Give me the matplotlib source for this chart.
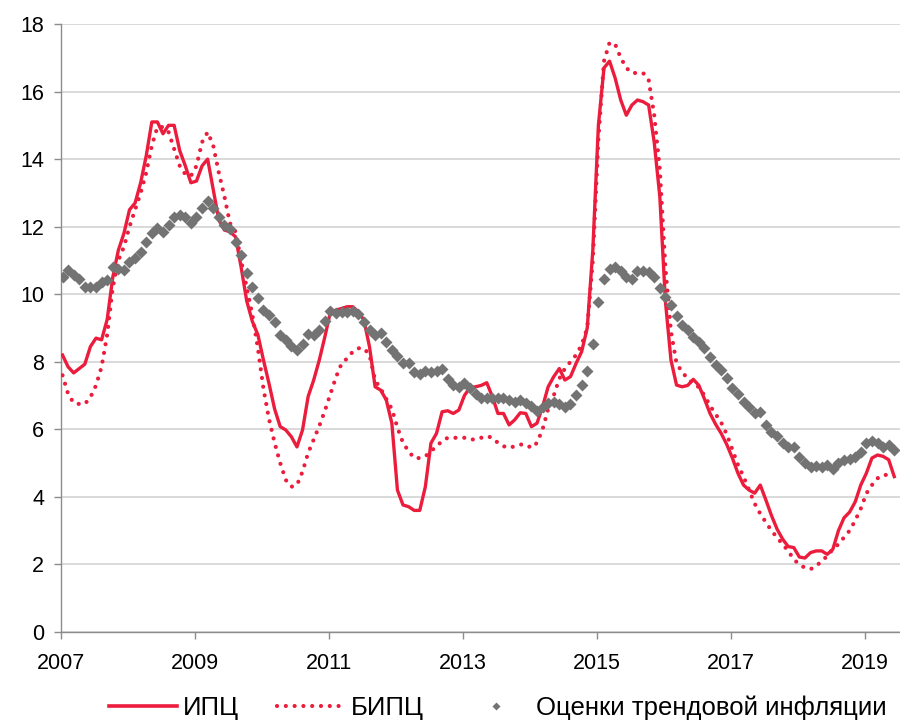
import numpy as np
import matplotlib.pyplot as plt
from matplotlib.lines import Line2D

plt.rcParams['font.family'] = ['Liberation Sans', 'DejaVu Sans']

# monthly data, Jan 2007 .. Jun 2019 (% y/y)
cpi = [8.2, 7.85, 7.67, 7.8, 7.93, 8.45, 8.7, 8.65, 9.25, 10.5,
       11.3, 11.8, 12.5, 12.7, 13.3, 14.1, 15.1, 15.1, 14.75, 15.0,
       15.0, 14.25, 13.8, 13.3, 13.35, 13.8, 14.0, 13.1, 12.2, 11.9,
       11.85, 11.7, 10.8, 9.8, 9.2, 8.8, 8.05, 7.35, 6.6, 6.08,
       5.98, 5.78, 5.48, 5.98, 6.97, 7.46, 8.05, 8.74, 9.48, 9.53,
       9.58, 9.63, 9.63, 9.48, 9.23, 8.44, 7.26, 7.16, 6.87, 6.18,
       4.2, 3.76, 3.71, 3.6, 3.6, 4.3, 5.59, 5.88, 6.52, 6.55,
       6.47, 6.57, 7.0, 7.24, 7.26, 7.3, 7.38, 6.97, 6.47, 6.47,
       6.13, 6.28, 6.49, 6.47, 6.08, 6.18, 6.67, 7.26, 7.56, 7.8,
       7.46, 7.56, 7.95, 8.3, 9.0, 11.3, 15.0, 16.7, 16.9, 16.4,
       15.75, 15.3, 15.6, 15.75, 15.7, 15.6, 14.5, 12.9, 9.8, 8.05,
       7.31, 7.26, 7.3, 7.48, 7.3, 6.9, 6.47, 6.15, 5.88, 5.55,
       5.15, 4.7, 4.35, 4.2, 4.11, 4.35, 3.91, 3.45, 3.05, 2.75,
       2.53, 2.5, 2.22, 2.19, 2.35, 2.4, 2.4, 2.3, 2.45, 3.0,
       3.38, 3.55, 3.85, 4.35, 4.7, 5.15, 5.24, 5.2, 5.1, 4.6]

bipc = [7.6, 7.05, 6.78, 6.75, 6.75, 6.95, 7.3, 7.85, 8.8, 10.2,
        11.0, 11.4, 12.0, 12.5, 13.0, 13.6, 14.4, 14.95, 14.95, 14.8,
        14.3, 13.8, 13.55, 13.5, 13.8, 14.5, 14.8, 14.4, 13.6, 12.9,
        12.1, 11.85, 11.0, 10.2, 9.4, 8.4, 7.2, 6.3, 5.6, 5.0,
        4.5, 4.3, 4.35, 4.75, 5.3, 5.7, 6.1, 6.55, 7.05, 7.55,
        7.95, 8.1, 8.3, 8.4, 8.4, 8.2, 7.45, 7.2, 6.9, 6.6,
        6.05, 5.6, 5.35, 5.15, 5.15, 5.2, 5.35, 5.5, 5.65, 5.75,
        5.75, 5.75, 5.75, 5.7, 5.7, 5.75, 5.8, 5.75, 5.6, 5.5,
        5.45, 5.5, 5.55, 5.55, 5.45, 5.6, 6.0, 6.6, 7.0, 7.5,
        7.8, 8.0, 8.2, 8.5, 9.0, 11.0, 14.6, 16.9, 17.45, 17.4,
        17.0, 16.7, 16.55, 16.55, 16.55, 16.35, 15.3, 13.7, 10.8, 8.9,
        7.95, 7.7, 7.5, 7.35, 7.25, 7.0, 6.7, 6.45, 6.2, 5.85,
        5.4, 4.95, 4.6, 4.2, 3.8, 3.5, 3.25, 3.0, 2.8, 2.6,
        2.4, 2.15, 2.0, 1.9, 1.86, 1.95, 2.1, 2.25, 2.45, 2.6,
        2.8, 3.0, 3.3, 3.65, 4.1, 4.35, 4.55, 4.65, 4.65, 4.6]

trend = [10.52, 10.72, 10.57, 10.44, 10.2, 10.2, 10.22, 10.35, 10.42, 10.8,
         10.75, 10.72, 10.94, 11.08, 11.26, 11.56, 11.82, 11.97, 11.85, 12.05,
         12.3, 12.35, 12.3, 12.1, 12.3, 12.55, 12.77, 12.55, 12.3, 12.05,
         11.92, 11.54, 11.16, 10.62, 10.22, 9.88, 9.53, 9.39, 9.19, 8.8,
         8.64, 8.46, 8.36, 8.52, 8.82, 8.79, 8.94, 9.21, 9.5, 9.43,
         9.48, 9.48, 9.5, 9.4, 9.18, 8.94, 8.79, 8.84, 8.59, 8.36,
         8.17, 7.95, 7.95, 7.7, 7.65, 7.73, 7.7, 7.73, 7.8, 7.5,
         7.31, 7.26, 7.36, 7.21, 7.06, 6.94, 6.92, 6.92, 6.92, 6.94,
         6.87, 6.82, 6.87, 6.77, 6.69, 6.55, 6.67, 6.77, 6.82, 6.74,
         6.67, 6.75, 7.01, 7.31, 7.73, 8.54, 9.77, 10.46, 10.76, 10.8,
         10.7, 10.51, 10.46, 10.7, 10.7, 10.66, 10.51, 10.17, 9.92, 9.67,
         9.35, 9.1, 8.94, 8.74, 8.59, 8.4, 8.15, 7.9, 7.75, 7.51,
         7.21, 7.06, 6.82, 6.67, 6.47, 6.52, 6.13, 5.93, 5.8, 5.6,
         5.49, 5.47, 5.19, 4.99, 4.88, 4.9, 4.88, 4.95, 4.82, 4.99,
         5.09, 5.11, 5.19, 5.34, 5.59, 5.64, 5.59, 5.47, 5.54, 5.39]

year_labels = ['2007', '2009', '2011', '2013', '2015', '2017', '2019']
labels = ['ИПЦ', 'БИПЦ', 'Оценки трендовой инфляции']

red = '#EC1C3D'
grey = '#737373'

months = np.arange(len(cpi)) + 0.27

fig = plt.figure(figsize=(9, 7.22), dpi=100)
ax = fig.add_axes([61 / 900, 1 - 632 / 722, 1 - 61 / 900, (632 - 24) / 722])

ax.plot(months, cpi, color=red, lw=2.4, solid_joinstyle='round', zorder=3)
ax.plot(months, bipc, color=red, lw=3.0, linestyle=(0, (0.01, 2.1)),
        dash_capstyle='round', zorder=4)
ax.plot(months, trend, linestyle='none', marker='D', ms=6.3,
        color=grey, mec='none', zorder=5)

ax.set_xlim(0, 150.3)
ax.set_ylim(0, 18)
ax.set_yticks(np.arange(0, 19, 2))
ax.set_xticks(np.arange(0, 145, 24))
ax.set_xticklabels(year_labels)

ax.grid(axis='y', color='#d9d9d9', lw=1.4)
ax.set_axisbelow(True)
for s in ['top', 'right']:
    ax.spines[s].set_visible(False)
for s in ['left', 'bottom']:
    ax.spines[s].set_color('#8c8c8c')
    ax.spines[s].set_linewidth(1.0)
ax.tick_params(axis='both', colors='#8c8c8c', length=5, width=1.0,
               labelsize=15.5, labelcolor='black')
ax.tick_params(axis='x', pad=10)
ax.tick_params(axis='y', pad=7)

handles = [
    Line2D([], [], color=red, lw=2.6),
    Line2D([], [], color=red, lw=3.0, linestyle=(0, (0.01, 2.1)), dash_capstyle='round'),
    Line2D([], [], color=grey, linestyle='none', marker='D', ms=4.5, mec='none'),
]
fig.legend(handles, labels, loc='center', bbox_to_anchor=(0.553, 1 - 708 / 722),
           ncol=3, frameon=False, fontsize=18.5, handlelength=2.65,
           columnspacing=1.45, handletextpad=0.25, borderpad=0.1)

fig.savefig('out.png', dpi=100)
